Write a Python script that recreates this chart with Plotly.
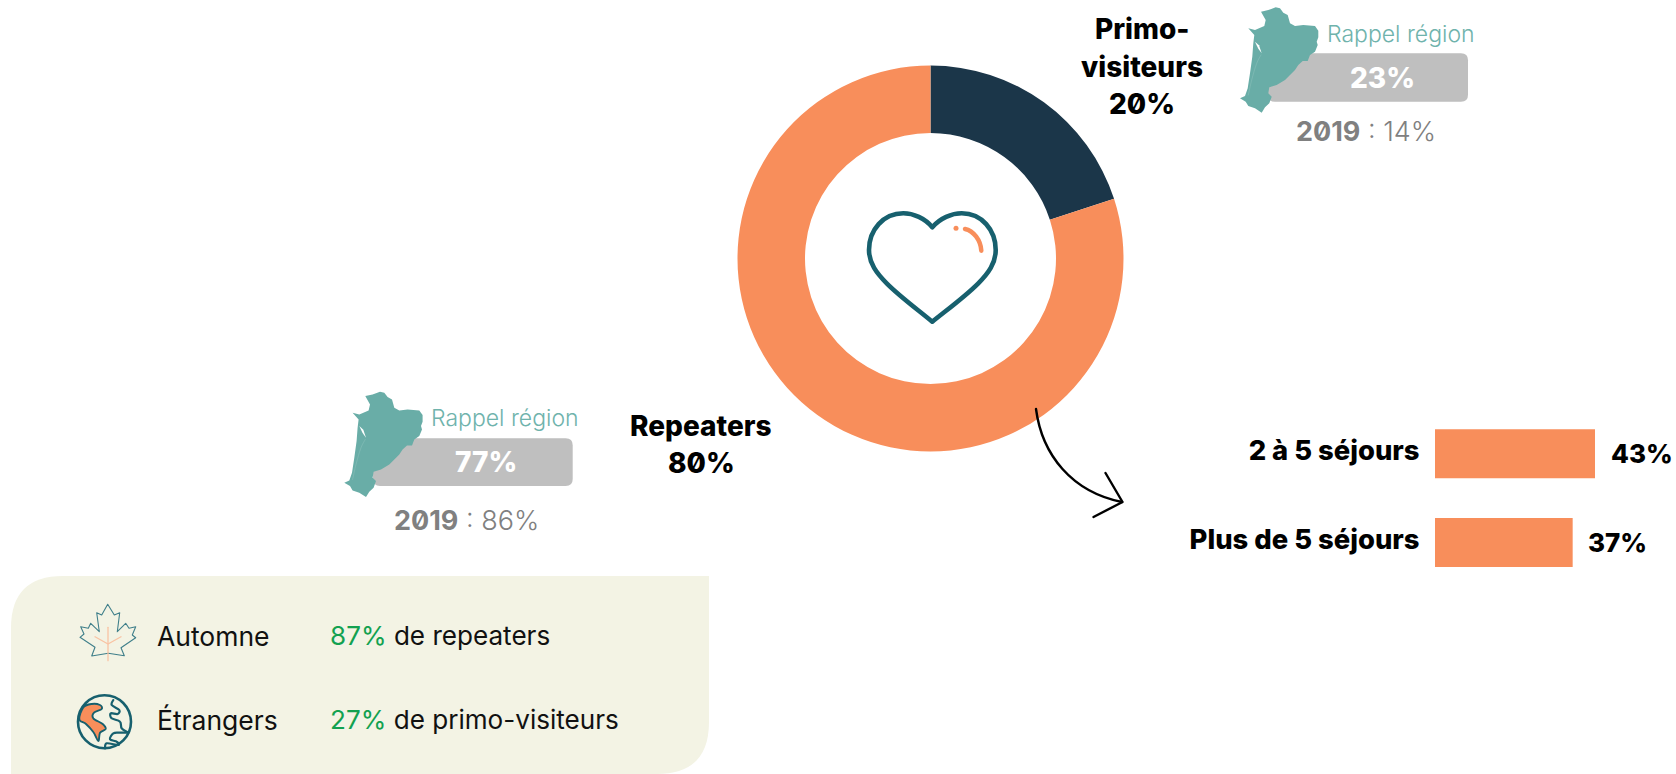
import plotly.graph_objects as go

W, H = 1676, 774

# ---- data ----
donut_labels = ["Primo-visiteurs", "Repeaters"]
donut_values = [20, 80]
donut_colors = ["#1B3649", "#F88E5B"]
stay_labels = ["2 à 5 séjours", "Plus de 5 séjours"]
stay_values = [43, 37]
region_values = [23, 77]
region_2019 = [14, 86]
panel_rows = ["Automne", "Étrangers"]
panel_pct = [87, 27]
panel_tail = ["de repeaters", "de primo-visiteurs"]

# ---- colours / fonts ----
ORANGE, TEAL, MAP, GREY = "#F88E5B", "#17606E", "#69ADA7", "#BFBFBF"
FONT = "Inter"


def fx(x):
    return x / W


def fy(y):
    return 1 - y / H


def poly(pts, close=True):
    return "M " + " L ".join(f"{x:.1f} {y:.1f}" for x, y in pts) + (" Z" if close else "")


def smooth(pts, close=False):
    """Catmull-Rom outline through hand-traced icon points."""
    n = len(pts)
    p = lambda i: pts[i % n] if close else pts[max(0, min(n - 1, i))]
    d = f"M {pts[0][0]:.1f} {pts[0][1]:.1f}"
    for i in range(n if close else n - 1):
        a, b, c, e = p(i - 1), p(i), p(i + 1), p(i + 2)
        d += (f" C {b[0]+(c[0]-a[0])/6:.1f} {b[1]+(c[1]-a[1])/6:.1f},"
              f" {c[0]-(e[0]-b[0])/6:.1f} {c[1]-(e[1]-b[1])/6:.1f}, {c[0]:.1f} {c[1]:.1f}")
    return d + (" Z" if close else "")


def rounded(x0, y0, x1, y1, r):
    return (f"M {x0+r} {y0} L {x1-r} {y0} Q {x1} {y0} {x1} {y0+r} L {x1} {y1-r} "
            f"Q {x1} {y1} {x1-r} {y1} L {x0+r} {y1} Q {x0} {y1} {x0} {y1-r} "
            f"L {x0} {y0+r} Q {x0} {y0} {x0+r} {y0} Z")


shapes = []


def add(path, fill=None, color=None, width=0, layer="above"):
    shapes.append(dict(type="path", path=path, xref="x2", yref="y2", layer=layer,
                       fillcolor=fill or "rgba(0,0,0,0)",
                       line=dict(color=color or "rgba(0,0,0,0)", width=width)))


# cream panel
r = 52
add(f"M 11 774 L 11 {576+r} Q 11 576 {11+r} 576 L 709 576 L 709 {774-r} Q 709 774 {709-r} 774 Z",
    fill="#F3F3E4", layer="below")

# region outline, traced on the upper map (crop coordinates /3)
map_pts = [(78, 35), (100, 30), (122, 22), (135, 25), (145, 38), (158, 45), (165, 70), (180, 78), (205, 75),
           (240, 78), (250, 92), (250, 112), (245, 125), (248, 135), (240, 155), (225, 165), (218, 183),
           (203, 183), (190, 195), (180, 210), (165, 225), (150, 240), (125, 255), (103, 262), (100, 280),
           (110, 290), (103, 310), (90, 322), (80, 338), (60, 325), (40, 318), (32, 305), (15, 295), (30, 288),
           (38, 265), (45, 220), (52, 170), (55, 130), (58, 105), (40, 85), (60, 90), (88, 78), (92, 60)]
estuary = [(60, 125), (72, 136), (80, 160), (70, 146)]
coast = [(78, 165), (65, 190), (50, 240), (40, 285)]
maps = [(1235, 0, 1268, 53.3, 1468, 101.7, 0), (1235 - 895.7, 384.4, 373, 438.3, 572.7, 486, 1)]
offset_2019 = [(0, 0), (-3.5, 5)]
for ox, oy, bx0, by0, bx1, by1, i in maps:
    add(rounded(bx0, by0, bx1, by1, 7), fill=GREY)
    add(poly([(ox + x / 3, oy + y / 3) for x, y in map_pts]), fill=MAP)
    add(poly([(ox + x / 3, oy + y / 3) for x, y in estuary]), fill="#FFFFFF")
    add(smooth([(ox + x / 3, oy + y / 3) for x, y in coast]), color="#8FC2BC", width=0.5)

# heart
hx = lambda x: f"{850 + x / 3:.1f}"
hy = lambda y: f"{200 + y / 3:.1f}"
h = [("M", [(247, 82)]), ("C", [(225, 55), (190, 40), (160, 40)]), ("C", [(100, 40), (57, 90), (57, 150)]),
     ("C", [(57, 190), (80, 220), (110, 250)]), ("C", [(150, 290), (205, 330), (247, 365)]),
     ("C", [(290, 330), (345, 290), (385, 250)]), ("C", [(415, 220), (437, 190), (437, 150)]),
     ("C", [(437, 90), (395, 40), (335, 40)]), ("C", [(305, 40), (270, 55), (247, 82)])]
add(" ".join(c + " " + ", ".join(f"{hx(x)} {hy(y)}" for x, y in p) for c, p in h) + " Z", color=TEAL, width=4.6)
add(f"M {hx(345)} {hy(87)} C {hx(370)} {hy(92)}, {hx(392)} {hy(120)}, {hx(394)} {hy(152)}", color=ORANGE, width=4.5)
shapes.append(dict(type="circle", xref="x2", yref="y2", x0=953.5, x1=958.5, y0=225.8, y1=230.8,
                   fillcolor=ORANGE, line=dict(width=0)))

# arrow
add("M 1036 409 C 1042 455, 1072 492, 1122 502", color="#000000", width=2.4)
add(poly([(1105.5, 473), (1122.5, 502), (1093.5, 517)], close=False), color="#000000", width=2.4)

# maple leaf
leaf = [(143, 43), (163, 75), (179, 68), (172, 125), (197, 100), (207, 115), (227, 110), (217, 135),
        (227, 143), (183, 173), (193, 197), (145, 190), (95, 198), (105, 172), (60, 142), (72, 132),
        (62, 110), (85, 115), (92, 100), (118, 125), (110, 68), (125, 75)]
z6 = lambda pts: [(60 + x / 3, 590 + y / 3) for x, y in pts]
add(poly(z6(leaf)), color="#3F7F8A", width=1.1)
add(poly(z6([(144, 112), (144, 212)]), close=False), color="#F9C3A3", width=1.3)
add(poly(z6([(105, 140), (144, 162), (183, 140)]), close=False), color="#F9C3A3", width=1.3)

# globe
z7 = lambda pts: [(70 + x / 3, 690 + y / 3) for x, y in pts]
shapes.append(dict(type="circle", xref="x2", yref="y2", x0=78, x1=131, y0=695.2, y1=748.2,
                   fillcolor="rgba(0,0,0,0)", line=dict(color=TEAL, width=2.6)))
land = [(28, 88), (40, 52), (65, 42), (90, 45), (95, 57), (72, 68), (70, 85), (98, 102), (107, 117), (90, 128),
        (85, 153), (70, 126), (48, 102)]
add(smooth(z7(land), close=True), fill=ORANGE, color=TEAL, width=1.9)
add(smooth(z7([(130, 30), (125, 45), (148, 60), (143, 72), (122, 70), (125, 85), (150, 95), (155, 115), (175, 128)])),
    color=TEAL, width=2.2)
add(smooth(z7([(175, 128), (150, 128), (130, 130), (120, 148), (140, 155), (145, 165), (110, 160), (105, 175)])),
    color=TEAL, width=2.2)

# ---- text ----
anns = []


def note(text, x, y, size, color="#000000", weight=400, anchor="center"):
    anns.append(dict(text=text, x=x, y=y, xref="x2", yref="y2", xanchor=anchor, yanchor="middle",
                     showarrow=False, borderpad=0,
                     font=dict(family=FONT, size=size, color=color, weight=weight)))


BOLD = 28
note("Primo-", 1142, 29, BOLD, weight=800)
note("visiteurs", 1142, 67, BOLD, weight=800)
note(f"{donut_values[0]}%", 1142, 103.5, BOLD, weight=800)
note(donut_labels[1], 701, 425.5, BOLD, weight=800)
note(f"{donut_values[1]}%", 701, 463, BOLD, weight=800)

for (ox, oy, bx0, by0, bx1, by1, i) in maps:
    dx = ox - 1235
    note("Rappel région", 1401 + dx, 34 + oy, 23, color="#6FB3AC", weight=300)
    note(f"{region_values[i]}%", 1382 + dx, 78 + oy, 28, color="#FFFFFF", weight=800)
    note(f"<b>2019</b> : {region_2019[i]}%", 1366 + dx + offset_2019[i][0], 131 + oy + offset_2019[i][1], 27,
         color="#808080", weight=300)

for i, y in enumerate([635.5, 719.5]):
    note(panel_rows[i], 156, y, 26.5, color="#111111", anchor="left")
    note(f"<span style='color:#12A150'>{panel_pct[i]}%</span> {panel_tail[i]}", 329, y, 26.1,
         color="#111111", anchor="left")

# ---- figure ----
UNIT = 160 / 43                 # pixels per percentage point on the bars
AX_MAX = 48
ROW = 88.7
top = 453.8 - ROW / 2
bot = 542.5 + ROW / 2

fig = go.Figure()
fig.add_trace(go.Pie(labels=donut_labels, values=donut_values, sort=False, direction="clockwise", rotation=0,
                     hole=125.5 / 193, marker=dict(colors=donut_colors, line=dict(width=0)), textinfo="none",
                     hoverinfo="label+percent", showlegend=False,
                     domain=dict(x=[fx(737.5), fx(1123.5)], y=[fy(451.5), fy(65.5)])))
fig.add_trace(go.Bar(x=stay_values, y=stay_labels, orientation="h", marker=dict(color=ORANGE, line=dict(width=0)),
                     xaxis="x", yaxis="y", showlegend=False, hoverinfo="x+y"))
fig.add_trace(go.Scatter(x=[None], y=[None], xaxis="x2", yaxis="y2", showlegend=False, hoverinfo="skip"))

for lab, val in zip(stay_labels, stay_values):
    anns.append(dict(text=f"{val}%", x=val, y=lab, xref="x", yref="y", xanchor="left", yanchor="middle",
                     xshift=14.5, showarrow=False, borderpad=0,
                     font=dict(family=FONT, size=26, color="#000000", weight=800)))

fig.update_layout(
    width=W, height=H, margin=dict(l=0, r=0, t=0, b=0), paper_bgcolor="#FFFFFF", plot_bgcolor="rgba(0,0,0,0)",
    bargap=1 - 49 / ROW, showlegend=False, shapes=shapes, annotations=anns,
    xaxis=dict(domain=[fx(1435), fx(1435 + AX_MAX * UNIT)], range=[0, AX_MAX], visible=False, fixedrange=True, anchor="y"),
    yaxis=dict(domain=[fy(bot), fy(top)], type="category", autorange="reversed", anchor="x", showgrid=False,
               zeroline=False, showline=False, ticks="outside", ticklen=9, tickcolor="rgba(0,0,0,0)",
               ticklabelshift=3,
               tickfont=dict(family=FONT, size=27.4, color="#000000", weight=800), fixedrange=True),
    xaxis2=dict(domain=[0, 1], range=[0, W], visible=False, fixedrange=True, anchor="y2"),
    yaxis2=dict(domain=[0, 1], range=[H, 0], visible=False, fixedrange=True, anchor="x2"),
)

css = ("body{margin:0;overflow:hidden}"
       "svg text{font-feature-settings:'zero' 1}"
       ".shapelayer path{stroke-linecap:round;stroke-linejoin:round}")
post = ("var s=document.createElement('style');s.textContent=" + repr(css) + ";document.head.appendChild(s);")
fig.write_html("out.html", post_script=post, config=dict(displayModeBar=False))
